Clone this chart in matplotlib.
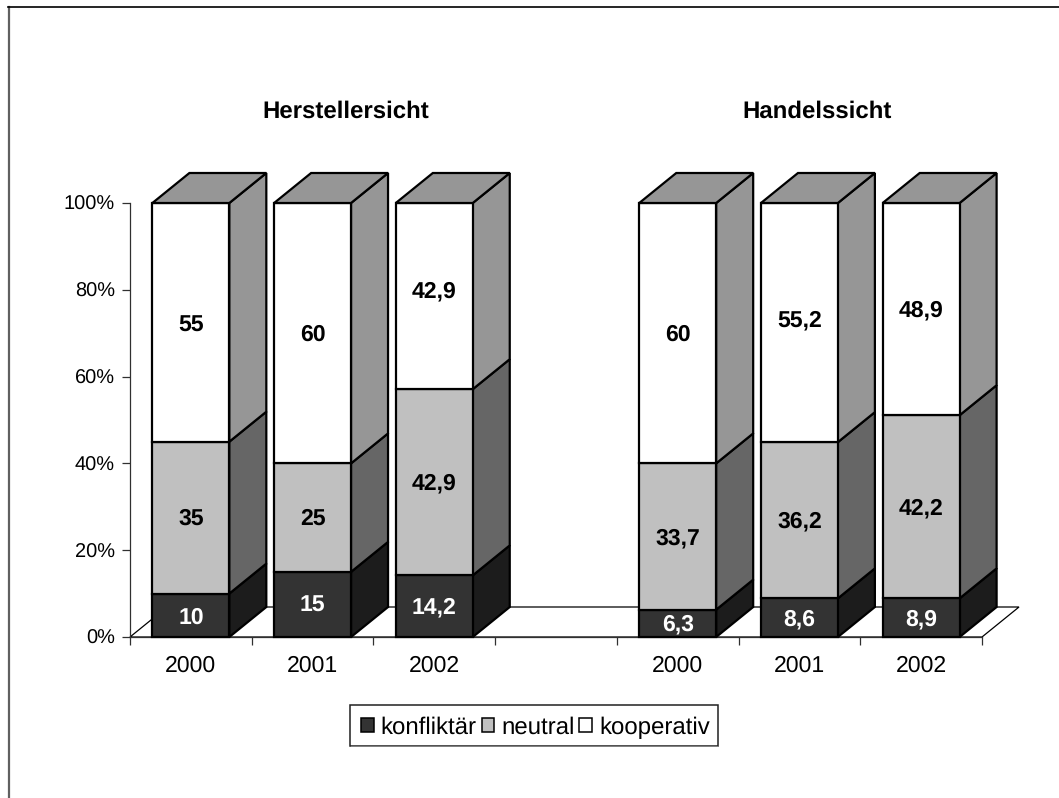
import numpy as np
import matplotlib.pyplot as plt
from matplotlib.patches import Patch, Polygon, Rectangle
from matplotlib.lines import Line2D

plt.rcParams['font.family'] = ['Liberation Sans', 'DejaVu Sans']
plt.rcParams['text.hinting'] = 'no_hinting'
plt.rcParams['text.hinting_factor'] = 1

### values (percent)
positions = [0.5, 1.5, 2.5, 4.5, 5.5, 6.5]
years = ['2000', '2001', '2002', '', '2000', '2001', '2002']
konfliktaer = [10, 15, 14.2, 6.3, 8.9, 8.9]
neutral = [35, 25, 42.9, 33.7, 36, 42.2]
kooperativ = [55, 60, 42.9, 60, 55.1, 48.9]
labels_k = ['10', '15', '14,2', '6,3', '8,6', '8,9']
labels_n = ['35', '25', '42,9', '33,7', '36,2', '42,2']
labels_o = ['55', '60', '42,9', '60', '55,2', '48,9']
y_ticks = [0, 20, 40, 60, 80, 100]
y_labels = ['0%', '20%', '40%', '60%', '80%', '100%']

W, H = 1059, 798
FS = 16.8
bar_w = 0.632
dx = 37 / 121.7   # depth of the fake 3d, in category units
dy = 30 / 4.34    # same in percent units
EDGE = 1.6

# a few labels do not sit in the middle of their segment (pixels, + is down)
nudge = {('k', 0): 1.5, ('o', 0): 1.5, ('o', 2): -6.5, ('o', 4): -3.5}

fig = plt.figure(figsize=(W / 100, H / 100), dpi=100)
ax = fig.add_axes([130 / W, (H - 637) / H, 852 / W, 434 / H])
ax.set_xlim(0, 7)
ax.set_ylim(0, 100)

# outer frame, only top and left are inside the picture
fig.add_artist(Line2D([8.5 / W, 8.5 / W], [0, 1 - 7 / H], color='#606060', lw=1.6))
fig.add_artist(Line2D([8 / W, 1], [1 - 7 / H, 1 - 7 / H], color='black', lw=1.2))

# floor
ax.add_patch(Polygon([(0, 0), (7, 0), (7 + dx, dy), (dx, dy)], closed=True, fc='white',
                     ec='black', lw=0.9, clip_on=False, zorder=1))


def draw_segment(x, y0, y1, front, side, top=None):
    l, r = x - bar_w / 2, x + bar_w / 2
    ax.add_patch(Polygon([(r, y0), (r + dx, y0 + dy), (r + dx, y1 + dy), (r, y1)], closed=True,
                         fc=side, ec='black', lw=EDGE, clip_on=False, zorder=2))
    ax.add_patch(Polygon([(l, y0), (r, y0), (r, y1), (l, y1)], closed=True,
                         fc=front, ec='black', lw=EDGE, clip_on=False, zorder=2))
    if top is not None:
        ax.add_patch(Polygon([(l, y1), (r, y1), (r + dx, y1 + dy), (l + dx, y1 + dy)], closed=True,
                             fc=top, ec='black', lw=EDGE, clip_on=False, zorder=2))


def draw_label(key, i, x, y, txt, color):
    shift = -(1.5 + nudge.get((key, i), 0)) * 0.72
    ax.annotate(txt, (x, y), xytext=(0, shift), textcoords='offset points', ha='center', va='center',
                color=color, fontsize=FS, fontweight='bold', zorder=3)


for i, x in enumerate(positions):
    a = konfliktaer[i]
    b = a + neutral[i]
    draw_segment(x, 0, a, '#333333', '#1c1c1c')
    draw_segment(x, a, b, '#c0c0c0', '#666666')
    draw_segment(x, b, 100, '#ffffff', '#969696', top='#969696')
    draw_label('k', i, x, a / 2, labels_k[i], 'white')
    draw_label('n', i, x, a + neutral[i] / 2, labels_n[i], 'black')
    draw_label('o', i, x, b + kooperativ[i] / 2, labels_o[i], 'black')

# axes
for s in ['top', 'right']:
    ax.spines[s].set_visible(False)
for s in ['left', 'bottom']:
    ax.spines[s].set_linewidth(0.9)
    ax.spines[s].set_color('#303030')
    ax.spines[s].set_zorder(1.5)
ax.set_yticks(y_ticks)
ax.set_yticklabels(y_labels, fontsize=14.4)
ax.set_xticks(np.arange(0, 8))
ax.set_xticklabels([])
ax.set_xticks(np.arange(0.5, 7), labels=years, minor=True, fontsize=FS)
ax.tick_params(axis='x', which='minor', length=0, pad=13)
ax.tick_params(axis='x', which='major', length=6, width=0.9, color='#303030')
ax.tick_params(axis='y', length=6, width=0.9, pad=5, color='#303030')

fig.text(345.5 / W, 1 - 112 / H, 'Herstellersicht', ha='center', va='center', fontsize=17.2, fontweight='bold')
fig.text(817.5 / W, 1 - 112 / H, 'Handelssicht', ha='center', va='center', fontsize=17.2, fontweight='bold')

# legend, box drawn by hand for the grey shadow line at the bottom
fig.add_artist(Rectangle((350 / W, 1 - 746 / H), 368 / W, 41 / H, transform=fig.transFigure,
                         fc='white', ec='#202020', lw=1.1))
fig.add_artist(Rectangle((351 / W, 1 - 747 / H), 368 / W, 1.5 / H, transform=fig.transFigure,
                         fc='#808080', ec='none'))
handles = [Patch(fc='#333333', ec='black', lw=1.1), Patch(fc='#c0c0c0', ec='black', lw=1.1),
           Patch(fc='#ffffff', ec='black', lw=1.1)]
leg = fig.legend(handles, ['konfliktär', 'neutral', 'kooperativ'], ncol=3, loc='center',
                 bbox_to_anchor=(535.5 / W, 1 - 727.5 / H), fontsize=17, frameon=False,
                 handlelength=0.54, handleheight=0.54, handletextpad=0.3, columnspacing=0.2,
                 borderpad=0, borderaxespad=0)
leg.set_zorder(5)

fig.savefig('out.png', dpi=100)
